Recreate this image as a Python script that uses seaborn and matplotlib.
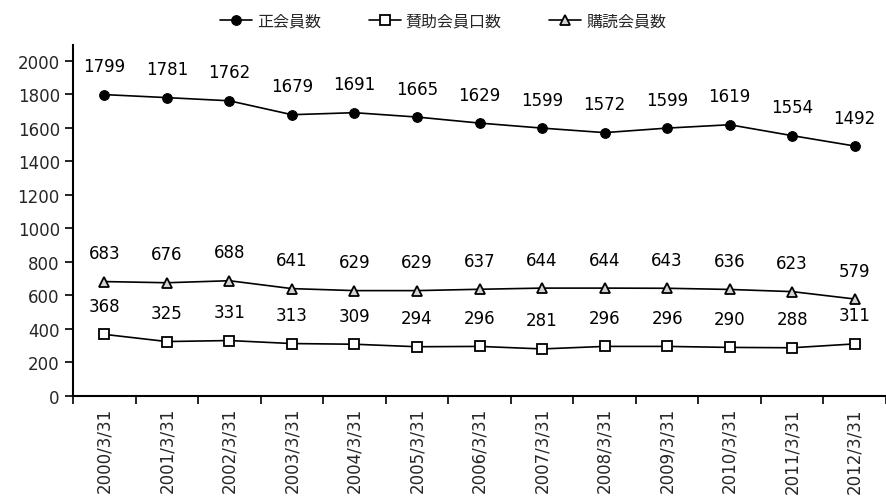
import matplotlib
matplotlib.use("Agg")
import matplotlib.pyplot as plt
import numpy as np
import pandas as pd
import seaborn as sns

dates = ["2000/3/31", "2001/3/31", "2002/3/31", "2003/3/31", "2004/3/31",
         "2005/3/31", "2006/3/31", "2007/3/31", "2008/3/31", "2009/3/31",
         "2010/3/31", "2011/3/31", "2012/3/31"]
regular = [1799, 1781, 1762, 1679, 1691, 1665, 1629, 1599, 1572, 1599, 1619, 1554, 1492]
support = [368, 325, 331, 313, 309, 294, 296, 281, 296, 296, 290, 288, 311]
subscribe = [683, 676, 688, 641, 629, 629, 637, 644, 644, 643, 636, 623, 579]
series_names = ["正会員数", "賛助会員口数", "購読会員数"]

sns.set_theme(style="white")
plt.rcParams['font.family'] = ['DejaVu Sans', 'Noto Sans CJK JP']

fig = plt.figure(figsize=(8.86, 5.02), dpi=100)
ax = fig.add_axes([73 / 886, 1 - 397 / 502, 1 - 73 / 886, (397 - 46) / 502])

x = np.arange(len(dates))
styles = [
    (regular, dict(marker="o", markersize=11, markerfacecolor="black", markeredgecolor="black")),
    (support, dict(marker="s", markersize=10, markerfacecolor="white", markeredgecolor="black", markeredgewidth=1.3)),
    (subscribe, dict(marker="^", markersize=10, markerfacecolor="#d4d4d4", markeredgecolor="black", markeredgewidth=1.3)),
]
for (vals, kw), name in zip(styles, series_names):
    sns.lineplot(x=x, y=vals, ax=ax, color="black", linewidth=1.2, label=name, **kw)
    for xi, v in zip(x, vals):
        ax.annotate(str(v), (xi, v), xytext=(0, 14), textcoords="offset points",
                    ha="center", va="bottom", fontsize=12, color="black")

ax.set_xlim(-0.5, len(dates) - 0.5)
ax.set_ylim(0, 2095)
ax.set_yticks(range(0, 2001, 200))
ax.set_xticks(np.arange(-0.5, len(dates), 1.0))
ax.set_xticklabels([])
ax.set_xticks(x, minor=True)
ax.set_xticklabels(dates, minor=True, rotation=90, fontsize=12)
ax.tick_params(axis="x", which="major", direction="out", length=6, width=1.2, color="black", bottom=True)
ax.tick_params(axis="x", which="minor", length=0, pad=8)
ax.tick_params(axis="y", direction="out", length=6, width=1.2, color="black", left=True, labelsize=12)

for side in ["top", "right"]:
    ax.spines[side].set_visible(False)
for side in ["left", "bottom"]:
    ax.spines[side].set_color("black")
    ax.spines[side].set_linewidth(1.5)

handles, labels = ax.get_legend_handles_labels()
ax.legend_.remove()
for h in handles:
    h.set_markersize(7)
fig.legend(handles, labels, loc="upper center", bbox_to_anchor=(0.5, 1.0), ncol=3,
           frameon=False, fontsize=11.5, handlelength=2.0, columnspacing=3.0, handletextpad=0.3)

fig.savefig("out.png", dpi=100)
